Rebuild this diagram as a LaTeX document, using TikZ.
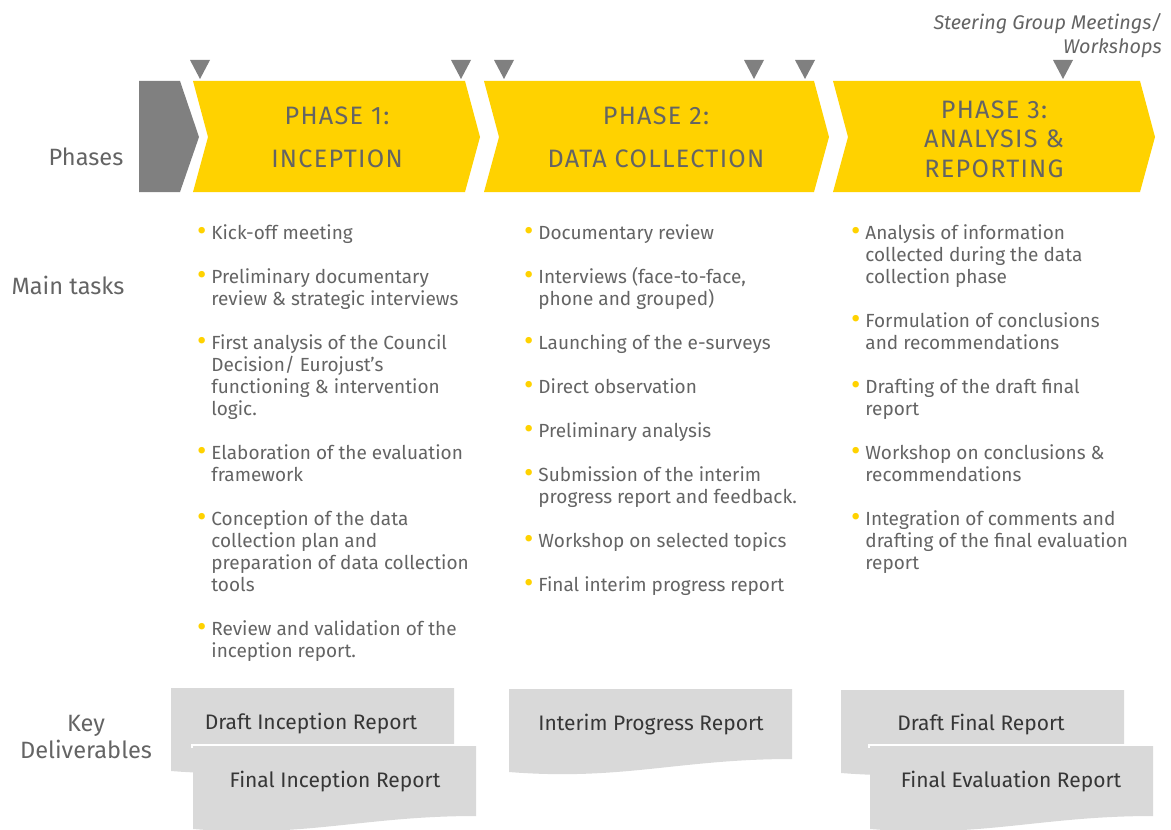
\documentclass[tikz,border=0pt]{standalone}
\usepackage{fontspec}
\setmainfont{Fira Sans}
\newfontfamily\spacedfont{Fira Sans}[LetterSpace=5]
\usetikzlibrary{positioning}

\definecolor{eyyellow}{HTML}{FFD200}
\definecolor{eygrey}{HTML}{808080}
\definecolor{textgrey}{HTML}{646464}
\definecolor{boxgrey}{HTML}{D9D9D9}
\definecolor{boxtext}{HTML}{363636}

\newcommand{\bul}{\llap{\textcolor{eyyellow}{\Large\raisebox{-0.5pt}{\textbullet}}\hspace{2.5pt}}}

\begin{document}
\begin{tikzpicture}[x=0.5pt,y=-0.5pt]
            \tikzstyle{phase}=[fill=eyyellow]
            \tikzstyle{start}=[fill=eygrey]
            \tikzstyle{marker}=[fill=eygrey]
            \tikzstyle{deliv}=[fill=boxgrey]
            \tikzstyle{phasetext}=[text=textgrey,align=center,font=\spacedfont\fontsize{12.6}{21.5}\selectfont]
            \tikzstyle{rowlabel}=[text=textgrey,align=center,font=\fontsize{11.8}{13.5}\selectfont]
            \tikzstyle{tasks}=[text=textgrey,align=left,anchor=north west,inner sep=0pt,font=\fontsize{9.5}{11}\selectfont]
            \tikzstyle{delivtext}=[text=boxtext,font=\fontsize{10.5}{12}\selectfont]

            \useasboundingbox (0,0) rectangle (1171,829);

            \def\w{283}
            \def\mid{137}

            % steering group markers
            \node[text=textgrey,align=right,anchor=north east,inner sep=0pt,font=\fontsize{9.9}{12}\selectfont\itshape] (steer) at (1162,13) {Steering Group Meetings/\\Workshops};
            \fill[marker] (190,60) -- (210,60) -- (200,79) -- cycle;
            \fill[marker] (451,60) -- (471,60) -- (461,79) -- cycle;
            \fill[marker] (494,60) -- (514,60) -- (504,79) -- cycle;
            \fill[marker] (744,60) -- (764,60) -- (754,79) -- cycle;
            \fill[marker] (795,60) -- (815,60) -- (805,79) -- cycle;
            \fill[marker] (1053,60) -- (1073,60) -- (1063,79) -- cycle;

            % phases
            \fill[start] (139,81) -- (180,81) -- (199,\mid) -- (180,192) -- (139,192) -- cycle;
            \fill[phase] (193,81) -- (465,81) -- (480,\mid) -- (465,192) -- (193,192) -- (208,\mid) -- cycle;
            \fill[phase] (484,81) -- (814,81) -- (829,\mid) -- (814,192) -- (484,192) -- (499,\mid) -- cycle;
            \fill[phase] (833,81) -- (1140,81) -- (1155,\mid) -- (1140,192) -- (833,192) -- (848,\mid) -- cycle;

            \node[phasetext] (p1) at (337,\mid) {PHASE 1:\\INCEPTION};
            \node[phasetext] (p2) at (656,\mid) {PHASE 2:\\DATA COLLECTION};
            \node[phasetext,font=\spacedfont\fontsize{12.6}{14.8}\selectfont] (p3) at (994,139) {PHASE 3:\\ANALYSIS \&\\REPORTING};

            % row labels
            \node[rowlabel] (lphases) at (86,157) {Phases};
            \node[rowlabel] (ltasks)  at (68,285) {Main tasks};
            \node[rowlabel] (ldeliv)  at (86,737) {Key\\Deliverables};

            % main tasks
            \node[tasks] (t1) at (211,224) {\bul Kick-off meeting\\[11pt]
                \bul Preliminary documentary\\review \& strategic interviews\\[11pt]
                \bul First analysis of the Council\\Decision/ Eurojust’s\\functioning \& intervention\\logic.\\[11pt]
                \bul Elaboration of the evaluation\\framework\\[11pt]
                \bul Conception of the data\\collection plan and\\preparation of data collection\\tools\\[11pt]
                \bul Review and validation of the\\inception report.};
            \node[tasks] (t2) at (538,224) {\bul Documentary review\\[11pt]
                \bul Interviews (face-to-face,\\phone and grouped)\\[11pt]
                \bul Launching of the e-surveys\\[11pt]
                \bul Direct observation\\[11pt]
                \bul Preliminary analysis\\[11pt]
                \bul Submission of the interim\\progress report and feedback.\\[11pt]
                \bul Workshop on selected topics\\[11pt]
                \bul Final interim progress report};
            \node[tasks] (t3) at (865,224) {\bul Analysis of information\\collected during the data\\collection phase\\[11pt]
                \bul Formulation of conclusions\\and recommendations\\[11pt]
                \bul Drafting of the draft final\\report\\[11pt]
                \bul Workshop on conclusions \&\\recommendations\\[11pt]
                \bul Integration of comments and\\drafting of the final evaluation\\report};

            % key deliverables
            \fill[deliv] (171,688) -- (171+\w,688) -- (171+\w,758) .. controls (171+0.6*\w,758) and (171+0.4*\w,780) .. (171,771) -- cycle;
            \fill[white] (191,744) rectangle (193+\w+2,748);
            \fill[deliv] (193,746) -- (193+\w,746) -- (193+\w,816) .. controls (193+0.6*\w,816) and (193+0.4*\w,838) .. (193,829) -- cycle;
            \fill[deliv] (509,689) -- (509+\w,689) -- (509+\w,759) .. controls (509+0.6*\w,759) and (509+0.4*\w,781) .. (509,772) -- cycle;
            \fill[deliv] (841,690) -- (841+\w,690) -- (841+\w,760) .. controls (841+0.6*\w,760) and (841+0.4*\w,782) .. (841,773) -- cycle;
            \fill[white] (868,744) rectangle (870+\w+2,748);
            \fill[deliv] (870,746) -- (870+\w,746) -- (870+\w,816) .. controls (870+0.6*\w,816) and (870+0.4*\w,838) .. (870,829) -- cycle;

            \node[delivtext] (d1) at (311,724) {Draft Inception Report};
            \node[delivtext] (d2) at (335,782) {Final Inception Report};
            \node[delivtext] (d3) at (651,725) {Interim Progress Report};
            \node[delivtext] (d4) at (981,725) {Draft Final Report};
            \node[delivtext] (d5) at (1011,782) {Final Evaluation Report};
        \end{tikzpicture}
\end{document}
